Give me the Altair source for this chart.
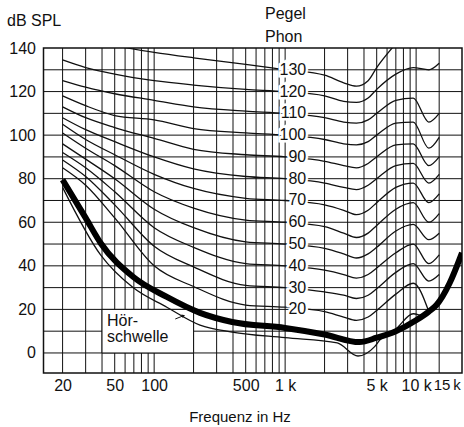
import altair as alt
import pandas as pd

# ---------------- data ----------------
freq_hz = [20, 30, 50, 100, 200, 500, 1000, 2000, 2800, 3500, 4300, 5000, 7000, 9500, 12500, 15000]
phon_130 = [None, None, 141, 138, 135.5, 132.5, 130, 127.5, 124, 122.5, 125, 131, 142, None, None, None]
phon_120 = [134.5, 131, 128, 125, 123, 121, 120, 118, 115.5, 115, 117, 121, 128, 131, 130, 133]
phon_110 = [125, 122, 119, 116, 113, 111, 110, 108, 106, 105.5, 107, 110, 116, 117, 106, 110]
phon_100 = [118, 113.5, 109, 107, 103, 101, 100, 98, 96, 95.5, 97, 100, 105.5, 106, 94, 99]
phon_90 = [113, 108, 103.5, 98.5, 93.5, 91, 90, 88, 86, 85, 87, 90, 95.5, 96, 86, 90]
phon_80 = [108, 102.5, 97, 90, 84.5, 81, 80, 78, 76, 75, 77, 80, 86, 87, 78, 82]
phon_70 = [105, 98, 91, 82, 75.5, 71, 70, 68, 65.5, 63.5, 65.5, 69, 76, 78, 69, 73]
phon_60 = [101, 94, 86, 74, 66.5, 61, 60, 58, 55, 53, 55, 58.5, 66, 69, 60, 64]
phon_50 = [96, 89, 80, 66, 57.5, 51, 50, 48, 45.5, 43.6, 45.5, 48.5, 56, 59, 52, 55]
phon_40 = [92, 85, 74, 57.5, 48.5, 41, 40, 38, 36, 34.4, 36, 39, 46, 50, 41, 45]
phon_30 = [88.6, 81, 68, 49, 39.5, 31, 30, 28, 26.5, 25, 26.5, 29.5, 37, 41, 33, 36]
phon_20 = [85, 77, 62, 40, 30.5, 22, 21, 19, 16.5, 15, 16.5, 19.5, 27, 32, 19, None]

thick_freq = [20, 30, 39, 69, 125, 224, 394, 1000, 2000, 3700, 5000, 7000, 10000, 12500, 14300, 18000, 22400]
thick_db = [79.5, 62, 50.5, 35, 25.7, 18.4, 14.2, 11.5, 8.5, 5, 7, 10, 15, 19, 22, 32, 46]

thin_freq = [20, 39, 69, 125, 224, 394, 1000, 2500, 3600, 4800, 5300, 7000, 9500, 11500, 13000]
thin_db = [76, 45, 30, 21, 12.8, 9.6, 7, 4.6, -1.4, 2.8, 6, 11, 18, 17, 20]

label_phon = [130, 120, 110, 100, 90, 80, 70, 60, 50, 40, 30, 20]
label_freq = 1450

grid_freq = [20, 30, 40, 50, 60, 70, 80, 90, 100, 200, 300, 400, 500, 600, 700, 800,
             900, 1000, 2000, 3000, 4000, 5000, 6000, 7000, 8000, 9000, 10000, 15000]
grid_db = [0, 10, 20, 30, 40, 50, 60, 70, 80, 90, 100, 110, 120, 130]

x_ticks = [20, 50, 100, 500, 1000, 5000, 10000, 15000]
y_ticks = [0, 20, 40, 60, 80, 100, 120, 140]

box_f = [40, 200]
box_db = [0, 20]
hs_text_f = 43.7
hs_text_db = [14.7, 7.3]
hs_text = ["Hör-", "schwelle"]
arrow_f = [145, 166]
arrow_db = [15.6, 17.0]

# ---------------- tables ----------------
contours = {130: phon_130, 120: phon_120, 110: phon_110, 100: phon_100, 90: phon_90,
            80: phon_80, 70: phon_70, 60: phon_60, 50: phon_50, 40: phon_40,
            30: phon_30, 20: phon_20}
rows = []
for p, vals in contours.items():
    for i, (f, v) in enumerate(zip(freq_hz, vals)):
        if v is not None:
            rows.append({"curve": f"p{p}", "f": f, "db": v, "i": i})
for i, (f, v) in enumerate(zip(thin_freq, thin_db)):
    rows.append({"curve": "thin", "f": f, "db": v, "i": i})
curves_df = pd.DataFrame(rows)
thick_df = pd.DataFrame({"f": thick_freq, "db": thick_db, "i": range(len(thick_freq))})
labels_df = pd.DataFrame({"f": [label_freq] * len(label_phon), "db": label_phon,
                          "t": [str(p) for p in label_phon]})
vgrid_df = pd.DataFrame({"f": grid_freq})
hgrid_df = pd.DataFrame({"db": grid_db})
box_df = pd.DataFrame({"f": [box_f[0]], "f2": [box_f[1]], "db": [box_db[0]], "db2": [box_db[1]]})
hs_df = pd.DataFrame({"f": [hs_text_f] * 2, "db": hs_text_db, "t": hs_text})
arrow_df = pd.DataFrame({"f": arrow_f, "db": arrow_db, "i": [0, 1]})
tip_df = pd.DataFrame({"f": [arrow_f[1]], "db": [arrow_db[1]]})

FONT = "Liberation Sans"
xs = alt.Scale(type="log", domain=[14.3, 22400], nice=False)
ys = alt.Scale(domain=[-9.2, 140], nice=False, zero=False)

IS15K = "datum.value == 15000"
x_axis = alt.Axis(
    values=x_ticks, grid=False, ticks=False, domain=False,
    labelExpr=("datum.value == 15000 ? '15\u2009k' : "
               "(datum.value >= 1000 ? (datum.value / 1000) + ' k' : '' + datum.value)"),
    labelFontSize={"condition": {"test": IS15K, "value": 15}, "value": 16},
    labelOffset={"condition": {"test": IS15K, "value": -6}, "value": 0},
    labelAlign={"condition": {"test": IS15K, "value": "left"}, "value": "center"},
    labelFont=FONT, labelColor="#111", labelPadding=4,
    labelFlush=False, labelOverlap=False,
    title="Frequenz in Hz", titleFont=FONT, titleFontSize=15, titleFontWeight="normal",
    titleColor="#111", titleX=196, titleY=43, titleBaseline="middle", titleAlign="center",
)
y_axis = alt.Axis(
    values=y_ticks, grid=False, ticks=False, domain=False,
    labelFontSize=16, labelFont=FONT, labelColor="#111", labelPadding=8,
    labelFlush=False, labelOverlap=False,
    title="dB SPL", titleFont=FONT, titleFontSize=16, titleFontWeight="normal",
    titleColor="#111", titleAngle=0, titleAlign="left", titleBaseline="middle",
    titleX=-37, titleY=-28,
)

X = lambda: alt.X("f:Q", scale=xs, axis=x_axis)
Y = lambda: alt.Y("db:Q", scale=ys, axis=y_axis)

vgrid = alt.Chart(vgrid_df).mark_rule(color="#111", strokeWidth=1).encode(x=X())
hgrid = alt.Chart(hgrid_df).mark_rule(color="#111", strokeWidth=1).encode(y=Y())
box = alt.Chart(box_df).mark_rect(fill="white", stroke="#111", strokeWidth=1).encode(
    x=X(), x2="f2:Q", y=Y(), y2="db2:Q")
thin_lines = alt.Chart(curves_df).mark_line(
    color="#111", strokeWidth=1.3, interpolate="monotone", clip=True).encode(
    x=X(), y=Y(), detail="curve:N", order="i:Q")
thick_line = alt.Chart(thick_df).mark_line(
    color="#000", strokeWidth=6, interpolate="monotone", clip=True).encode(
    x=X(), y=Y(), order="i:Q")
halo = alt.Chart(labels_df).mark_text(
    align="right", baseline="middle", font=FONT, fontSize=16,
    stroke="white", strokeWidth=5, fill="white").encode(x=X(), y=Y(), text="t:N")
labels = alt.Chart(labels_df).mark_text(
    align="right", baseline="middle", font=FONT, fontSize=16, color="#111").encode(
    x=X(), y=Y(), text="t:N")
hs = alt.Chart(hs_df).mark_text(
    align="left", baseline="middle", font=FONT, fontSize=16, color="#111").encode(
    x=X(), y=Y(), text="t:N")
arrow = alt.Chart(arrow_df).mark_line(color="#111", strokeWidth=1).encode(
    x=X(), y=Y(), order="i:Q")
tip = alt.Chart(tip_df).mark_point(
    shape="triangle", angle=70, size=14, filled=True, color="#111", opacity=1).encode(
    x=X(), y=Y())
pegel = alt.Chart(tip_df).mark_text(
    align="left", baseline="alphabetic", font=FONT, fontSize=16, color="#111",
    lineHeight=23).encode(
    x=alt.value(221.5), y=alt.value(-29), text=alt.value(["Pegel", "Phon"]))

chart = alt.layer(
    vgrid, hgrid, box, thin_lines, thick_line, halo, labels, hs, arrow, tip, pegel
).properties(
    width=418.5, height=325,
    autosize=alt.AutoSizeParams(type="none"),
    padding={"left": 43.5, "top": 48, "right": 2, "bottom": 54},
    background="white",
).configure_view(stroke="#111", strokeWidth=1.5)

chart.save("out.html", embed_options={"renderer": "svg", "actions": False})
